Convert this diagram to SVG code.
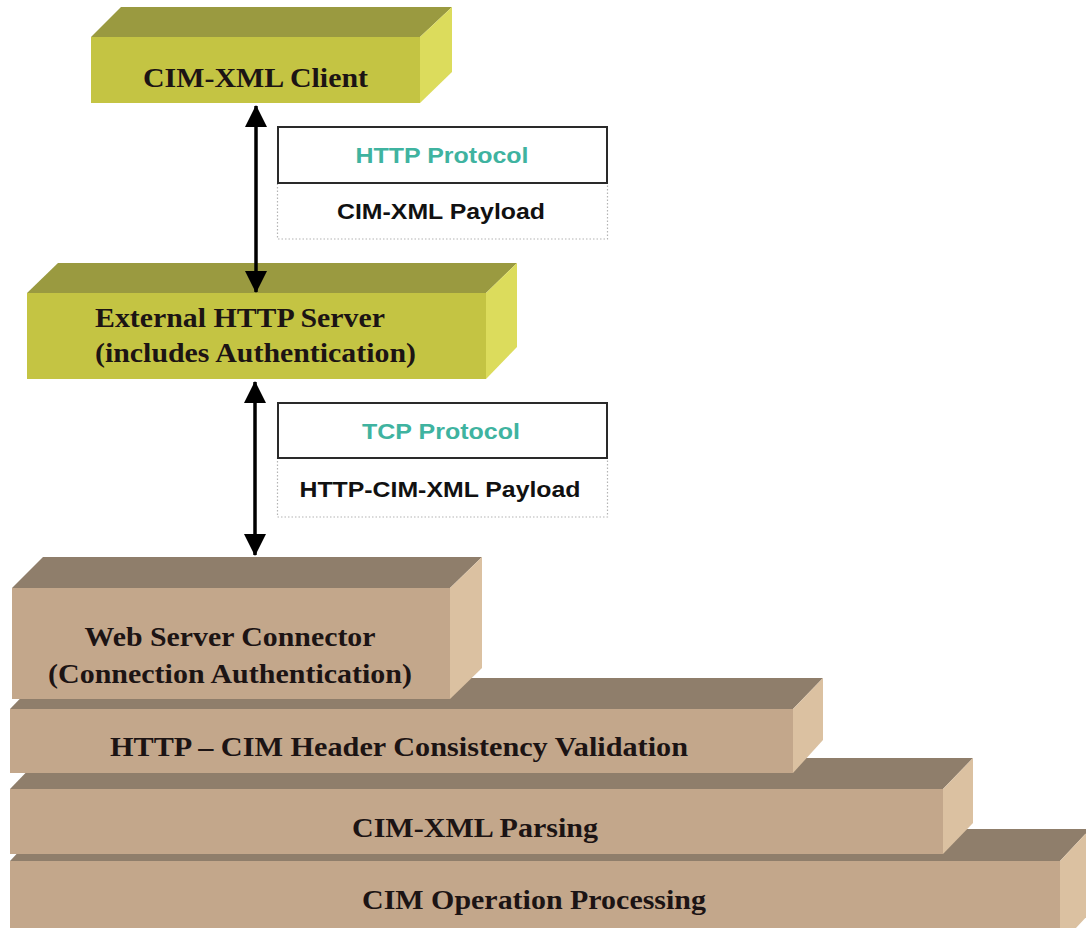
<svg xmlns="http://www.w3.org/2000/svg" width="1086" height="928" viewBox="0 0 1086 928">
  <style>
    .y-front { fill: #c4c443; }
    .y-top { fill: #9a9a40; }
    .y-side { fill: #dcdc5c; }
    .t-front { fill: #c3a78b; }
    .t-top { fill: #8f7e6b; }
    .t-side { fill: #dbc1a1; }
    .lbl { font-family: "Liberation Serif", "Times New Roman", serif; font-weight: bold; font-size: 27px; fill: #1c1414; }
    .proto { font-family: "Liberation Sans", Arial, sans-serif; font-weight: bold; font-size: 22px; text-anchor: middle; }
    .teal { fill: #3fb3a0; }
    .dark { fill: #111111; }
    .hdr { fill: #ffffff; stroke: #2a2a2a; stroke-width: 2; }
    .body { fill: none; stroke: #b4b4b4; stroke-width: 1.2; stroke-dasharray: 1.5 2; }
    .conn { stroke: #000000; stroke-width: 3.5; fill: none; marker-start: url(#head); marker-end: url(#head); }
  </style>
  <defs>
    <marker id="head" markerUnits="userSpaceOnUse" markerWidth="22" markerHeight="22" viewBox="0 0 22 22" refX="21" refY="11" orient="auto-start-reverse">
      <path d="M0,0 L22,11 L0,22 z" fill="#000000"/>
    </marker>
  </defs>

  <rect width="1086" height="928" fill="#ffffff"/>

  <!-- client -->
  <g id="cim-xml-client">
    <polygon class="y-top" points="91,37 121,7 452,7 420,37"/>
    <polygon class="y-side" points="420,37 452,7 452,72 420,103"/>
    <rect class="y-front" x="91" y="37" width="329" height="66"/>
    <text class="lbl" x="255.5" y="87" text-anchor="middle" textLength="225" lengthAdjust="spacingAndGlyphs">CIM-XML Client</text>
  </g>

  <!-- HTTP message box -->
  <g id="http-message">
    <rect class="body" x="277.5" y="183" width="330" height="56"/>
    <rect class="hdr" x="278" y="127" width="329" height="56"/>
    <text class="proto teal" x="442" y="163" textLength="173" lengthAdjust="spacingAndGlyphs">HTTP Protocol</text>
    <text class="proto dark" x="441" y="219" textLength="208" lengthAdjust="spacingAndGlyphs">CIM-XML Payload</text>
  </g>

  <!-- external server -->
  <g id="external-http-server">
    <polygon class="y-top" points="27,293 58,263 517,263 486,293"/>
    <polygon class="y-side" points="486,293 517,263 517,347 486,379"/>
    <rect class="y-front" x="27" y="293" width="459" height="86"/>
    <text class="lbl" x="95" y="327" textLength="290" lengthAdjust="spacingAndGlyphs">External HTTP Server</text>
    <text class="lbl" x="95" y="362" textLength="321" lengthAdjust="spacingAndGlyphs">(includes Authentication)</text>
  </g>

  <!-- TCP message box -->
  <g id="tcp-message">
    <rect class="body" x="277.5" y="458" width="330" height="59"/>
    <rect class="hdr" x="278" y="403" width="329" height="55"/>
    <text class="proto teal" x="441" y="439" textLength="158" lengthAdjust="spacingAndGlyphs">TCP Protocol</text>
    <text class="proto dark" x="440" y="497" textLength="281" lengthAdjust="spacingAndGlyphs">HTTP-CIM-XML Payload</text>
  </g>

  <!-- server stack, drawn bottom layer first -->
  <g id="cim-operation-processing">
    <polygon class="t-top" points="10,861 40,829 1090,829 1060,861"/>
    <polygon class="t-side" points="1060,861 1090,829 1090,913 1060,945"/>
    <rect class="t-front" x="10" y="861" width="1050" height="84"/>
    <text class="lbl" x="534" y="909" text-anchor="middle" textLength="344" lengthAdjust="spacingAndGlyphs">CIM Operation Processing</text>
  </g>

  <g id="cim-xml-parsing">
    <polygon class="t-top" points="10,789 40,758 973,758 943,789"/>
    <polygon class="t-side" points="943,789 973,758 973,823 943,854"/>
    <rect class="t-front" x="10" y="789" width="933" height="65"/>
    <text class="lbl" x="475" y="837" text-anchor="middle" textLength="246" lengthAdjust="spacingAndGlyphs">CIM-XML Parsing</text>
  </g>

  <g id="header-validation">
    <polygon class="t-top" points="10,709 40,678 823,678 793,709"/>
    <polygon class="t-side" points="793,709 823,678 823,740 793,773"/>
    <rect class="t-front" x="10" y="709" width="783" height="64"/>
    <text class="lbl" x="399" y="756" text-anchor="middle" textLength="578" lengthAdjust="spacingAndGlyphs">HTTP – CIM Header Consistency Validation</text>
  </g>

  <g id="web-server-connector">
    <polygon class="t-top" points="12,588 43,557 482,557 450,588"/>
    <polygon class="t-side" points="450,588 482,557 482,668 450,699"/>
    <rect class="t-front" x="12" y="588" width="438" height="111"/>
    <text class="lbl" x="230" y="646" text-anchor="middle" textLength="291" lengthAdjust="spacingAndGlyphs">Web Server Connector</text>
    <text class="lbl" x="230" y="683" text-anchor="middle" textLength="364" lengthAdjust="spacingAndGlyphs">(Connection Authentication)</text>
  </g>

  <!-- two-way links between layers -->
  <g id="connectors">
    <line class="conn" x1="256" y1="106" x2="256" y2="292"/>
    <line class="conn" x1="255" y1="382" x2="255" y2="555"/>
  </g>
</svg>
